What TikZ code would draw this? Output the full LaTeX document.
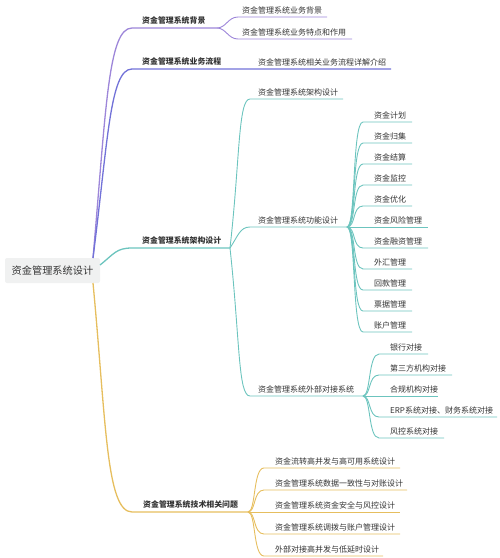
\documentclass[tikz,border=0pt]{standalone}
\usepackage{fontspec}
\setmainfont{Noto Sans CJK SC}
\definecolor{bgpurple}{HTML}{9D86D9}
\definecolor{flowblue}{HTML}{7272D8}
\definecolor{archteal}{HTML}{6CC4BE}
\definecolor{techgold}{HTML}{E6BE5E}
\definecolor{txtgray}{HTML}{333333}
\definecolor{rootgray}{HTML}{F0F1F1}
\begin{document}
\begin{tikzpicture}[x=1pt,y=-1pt,
    rootbox/.style={fill=rootgray,rounded corners=2pt,minimum width=95pt,minimum height=25pt,inner sep=0pt,font=\fontsize{10.2}{12}\selectfont,text=txtgray},
    lvlone/.style={anchor=south west,inner sep=0pt,font=\bfseries\fontsize{7.9}{9}\selectfont,text=txtgray},
    leaf/.style={anchor=south west,inner sep=0pt,font=\fontsize{8}{9}\selectfont,text=txtgray},
    rootline/.style={line width=1.3pt},
    subline/.style={line width=0.9pt}]
\useasboundingbox (0,0) rectangle (500,558);

% root
\node[rootbox] (R) at (52.5,270.5) {资金管理系统设计};
\coordinate (Rtop) at (93,258);
\coordinate (Rright) at (100,265);
\coordinate (Rbot) at (93,283);

% first level
\node[lvlone] (bg) at (142,25) {资金管理系统背景};
\node[lvlone] (flow) at (142,66) {资金管理系统业务流程};
\node[lvlone] (arch) at (142,245) {资金管理系统架构设计};
\node[lvlone] (tech) at (143,509) {资金管理系统技术相关问题};

\coordinate (bgS) at (217,28);
\coordinate (archS) at (230,248);
\coordinate (techS) at (248,512);

\draw[bgpurple,rootline] (Rtop) .. controls (106,110) and (108,28) .. (132,28) -- (bgS);
\draw[flowblue,rootline] (Rtop) .. controls (108,140) and (110,69) .. (132,69) -- (391,69);
\draw[archteal,rootline] (Rright) .. controls (114,254) and (116,248) .. (132,248) -- (archS);
\draw[techgold,rootline] (Rbot) .. controls (106,420) and (106,512) .. (132,512) -- (techS);

% background
\node[leaf] (bg1) at (242,14) {资金管理系统业务背景};
\node[leaf] (bg2) at (242,36) {资金管理系统业务特点和作用};
\draw[bgpurple,subline] (bgS) .. controls (226,28) and (228,17) .. (238,17) -- (327,17);
\draw[bgpurple,subline] (bgS) .. controls (226,28) and (228,39) .. (238,39) -- (352,39);

% business flow
\node[leaf] (flow1) at (258,66) {资金管理系统相关业务流程详解介绍};

% architecture
\node[leaf] (arch1) at (258,96) {资金管理系统架构设计};
\node[leaf] (func) at (258,224) {资金管理系统功能设计};
\node[leaf] (ext) at (258,393) {资金管理系统外部对接系统};
\coordinate (funcS) at (347,227);
\coordinate (extS) at (363,396);
\draw[archteal,subline] (archS) .. controls (240,160) and (238,99) .. (250,99) -- (343,99);
\draw[archteal,subline] (archS) .. controls (238,236) and (240,227) .. (250,227) -- (funcS);
\draw[archteal,subline] (archS) .. controls (240,340) and (238,396) .. (250,396) -- (extS);

% function design
\node[leaf] (f1) at (374,119) {资金计划};
\node[leaf] (f2) at (374,140) {资金归集};
\node[leaf] (f3) at (374,161) {资金结算};
\node[leaf] (f4) at (374,182) {资金监控};
\node[leaf] (f5) at (374,203) {资金优化};
\node[leaf] (f6) at (374,224) {资金风险管理};
\node[leaf] (f7) at (374,245) {资金融资管理};
\node[leaf] (f8) at (374,266) {外汇管理};
\node[leaf] (f9) at (374,287) {回款管理};
\node[leaf] (f10) at (374,308) {票据管理};
\node[leaf] (f11) at (374,329) {账户管理};
\draw[archteal,subline] (funcS) .. controls (356,227) and (352,122) .. (363,122) -- (412,122);
\draw[archteal,subline] (funcS) .. controls (356,227) and (352,143) .. (363,143) -- (412,143);
\draw[archteal,subline] (funcS) .. controls (356,227) and (352,164) .. (363,164) -- (412,164);
\draw[archteal,subline] (funcS) .. controls (356,227) and (352,185) .. (363,185) -- (412,185);
\draw[archteal,subline] (funcS) .. controls (356,227) and (352,206) .. (363,206) -- (412,206);
\draw[archteal,subline] (funcS) -- (428,227);
\draw[archteal,subline] (funcS) .. controls (356,227) and (352,248) .. (363,248) -- (428,248);
\draw[archteal,subline] (funcS) .. controls (356,227) and (352,269) .. (363,269) -- (412,269);
\draw[archteal,subline] (funcS) .. controls (356,227) and (352,290) .. (363,290) -- (412,290);
\draw[archteal,subline] (funcS) .. controls (356,227) and (352,311) .. (363,311) -- (412,311);
\draw[archteal,subline] (funcS) .. controls (356,227) and (352,332) .. (363,332) -- (412,332);

% external systems
\node[leaf] (e1) at (390,351) {银行对接};
\node[leaf] (e2) at (390,372) {第三方机构对接};
\node[leaf] (e3) at (390,393) {合规机构对接};
\node[leaf] (e4) at (390,414) {ERP系统对接、财务系统对接};
\node[leaf] (e5) at (390,435) {风控系统对接};
\draw[archteal,subline] (extS) .. controls (371,396) and (368,354) .. (379,354) -- (428,354);
\draw[archteal,subline] (extS) .. controls (371,396) and (368,375) .. (379,375) -- (452,375);
\draw[archteal,subline] (extS) -- (438,396);
\draw[archteal,subline] (extS) .. controls (371,396) and (368,417) .. (379,417) -- (497,417);
\draw[archteal,subline] (extS) .. controls (371,396) and (368,438) .. (379,438) -- (444,438);

% technical problems
\node[leaf] (t1) at (275,465) {资金流转高并发与高可用系统设计};
\node[leaf] (t2) at (275,487) {资金管理系统数据一致性与对账设计};
\node[leaf] (t3) at (275,509) {资金管理系统资金安全与风控设计};
\node[leaf] (t4) at (275,531) {资金管理系统调拨与账户管理设计};
\node[leaf] (t5) at (275,553) {外部对接高并发与低延时设计};
\draw[techgold,subline] (techS) .. controls (256,512) and (253,468) .. (264,468) -- (400,468);
\draw[techgold,subline] (techS) .. controls (256,512) and (253,490) .. (264,490) -- (407,490);
\draw[techgold,subline] (techS) -- (400,512);
\draw[techgold,subline] (techS) .. controls (256,512) and (253,534) .. (264,534) -- (400,534);
\draw[techgold,subline] (techS) .. controls (256,512) and (253,556) .. (264,556) -- (383,556);
\end{tikzpicture}
\end{document}
